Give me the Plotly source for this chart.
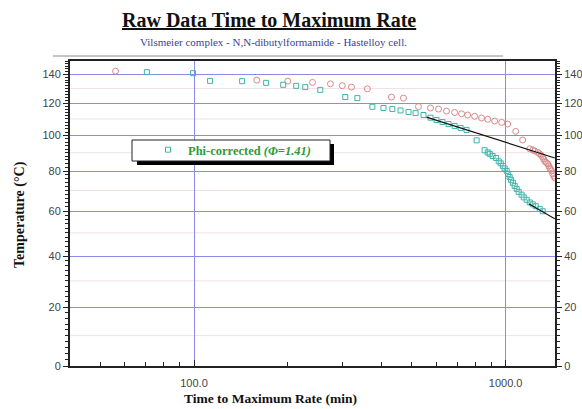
import numpy as np
import plotly.graph_objects as go

# Raw adiabatic data: time to maximum rate (min) vs temperature (°C)
raw_time = [56, 159, 200, 240, 274, 299, 320, 360, 430, 470, 525, 574, 609, 646,
            686, 722, 755, 795, 837, 876, 922, 971, 1015, 1077, 1134,
            1195, 1222, 1240, 1268, 1286, 1300, 1315, 1325, 1335, 1350, 1365,
            1375, 1385, 1395, 1405, 1416, 1428, 1438]
raw_temp = [142.4, 135.9, 135.2, 134.3, 133.3, 132.0, 131.0, 129.8, 124.2, 123.5,
            117.9, 117.0, 116.3, 115.0, 114.1, 113.3, 112.5, 111.7, 110.6, 109.8,
            108.7, 107.9, 106.9, 102.4, 97.3,
            92.2, 91.6, 91.0, 90.2, 89.4, 88.6, 87.6, 86.5, 85.3, 84.6, 83.9,
            82.8, 81.7, 80.9, 80.1, 78.5, 77.4, 76.4]

# Phi-corrected data
phi_time = [70.6, 99.3, 112.6, 142.7, 170.4, 193.3, 212.8, 227.5, 254.2, 305.8,
            334.3, 373.6, 405.4, 433, 460, 488, 514, 545, 574, 600, 627, 656,
            686, 717, 749, 807, 856, 876, 889, 908, 932, 950, 964, 980, 993,
            1008, 1019, 1030, 1041, 1055, 1069, 1085, 1101, 1125, 1143, 1168,
            1195, 1222, 1249, 1286, 1315]
phi_temp = [141.7, 140.9, 135.4, 135.2, 134.0, 132.6, 131.9, 131.0, 129.1, 124.2,
            123.5, 117.8, 117.0, 116.3, 115.4, 114.4, 113.7, 112.5, 110.8, 109.4,
            108.1, 106.9, 105.7, 104.5, 103.3, 97.1, 91.4, 90.2, 89.4, 88.2, 87.1,
            85.3, 84.2, 82.8, 81.4, 80.1, 78.5, 76.9, 75.4, 73.9, 72.3, 70.8,
            69.3, 67.9, 66.6, 65.4, 64.1, 63.2, 62.3, 61.0, 59.9]

# Arrhenius fit lines
fit_hi_time = [557, 1438]
fit_hi_temp = [111.2, 87.1]
fit_lo_time = [1186, 1438]
fit_lo_temp = [63.5, 56.4]

temp_ticks = [0, 20, 40, 60, 80, 100, 120, 140]
temp_minor_grid = [10, 30, 50, 70, 90, 110, 130]
temp_minor_ticks = list(range(0, 151, 2))
time_ticks = [100, 1000]
time_tick_labels = ["100.0", "1000.0"]
time_minor_ticks = [50, 60, 70, 80, 90, 200, 300, 400, 500, 600, 700, 800, 900]
time_range = [40, 1440]
temp_range = [0, 150]


def inv_t(temp_c):
    """Reciprocal absolute temperature scale (Arrhenius axis)."""
    return -1000.0 / (np.asarray(temp_c, dtype=float) + 273.15)


SERIF = "Liberation Serif, Times New Roman, serif"
SANS = "Liberation Sans, Arial, sans-serif"
GRID_BLUE = "#8a8ae8"
TICK_COLOR = "#444444"

# Plot-area geometry in pixels
L, R, T, B = 70, 27, 61, 43
W, H = 582, 409
PW, PH = W - L - R, H - T - B


def px_x(px):
    return (px - L) / PW


def px_y(py):
    return (H - B - py) / PH


fig = go.Figure()

fig.add_trace(go.Scatter(
    x=raw_time, y=inv_t(raw_temp), mode="markers", showlegend=False,
    marker=dict(symbol="circle-open", size=6, color="#d98a8a", line=dict(width=1)),
))
fig.add_trace(go.Scatter(
    x=phi_time, y=inv_t(phi_temp), mode="markers",
    name="<b>Phi-corrected <i>(Φ=1.41)</i></b>",
    marker=dict(symbol="square-open", size=5, color="#3fb3a8", line=dict(width=1)),
))
fig.add_trace(go.Scatter(
    x=fit_hi_time, y=inv_t(fit_hi_temp), mode="lines", showlegend=False,
    line=dict(color="#111111", width=1.2),
))
fig.add_trace(go.Scatter(
    x=fit_lo_time, y=inv_t(fit_lo_temp), mode="lines", showlegend=False,
    line=dict(color="#111111", width=1.2),
))
# Invisible trace so the right-hand axis is drawn
fig.add_trace(go.Scatter(x=[time_range[0]], y=[inv_t(0)], yaxis="y2",
                         mode="markers", marker=dict(opacity=0),
                         showlegend=False, hoverinfo="skip"))

y_range = list(inv_t(temp_range))
tickvals_y = list(inv_t(temp_ticks))
ticktext_y = [str(t) for t in temp_ticks]

common_y = dict(
    range=y_range, tickvals=tickvals_y, ticktext=ticktext_y,
    showline=True, linecolor="#222222", linewidth=2,
    ticks="outside", ticklen=5, tickwidth=1, tickcolor="#222222",
    tickfont=dict(family=SANS, size=11, color=TICK_COLOR),
    minor=dict(tickvals=list(inv_t(temp_minor_ticks)), ticks="outside",
               ticklen=3, tickcolor="#222222", showgrid=False),
    zeroline=False, automargin=False,
)

fig.update_layout(
    width=W, height=H,
    margin=dict(l=L, r=R, t=T, b=B),
    paper_bgcolor="white", plot_bgcolor="white",
    xaxis=dict(
        type="log", range=[np.log10(time_range[0]), np.log10(time_range[1])],
        tickvals=time_ticks, ticktext=time_tick_labels,
        showgrid=True, gridcolor=GRID_BLUE, gridwidth=1,
        showline=True, linecolor="#222222", linewidth=2, mirror=True,
        ticks="inside", ticklen=6, tickcolor="#222222",
        ticklabelstandoff=6,
        tickfont=dict(family=SANS, size=11, color=TICK_COLOR),
        minor=dict(tickvals=time_minor_ticks, ticks="inside", ticklen=4,
                   tickcolor="#222222", showgrid=False),
        zeroline=False, automargin=False,
    ),
    yaxis=dict(showgrid=True, gridcolor=GRID_BLUE, gridwidth=1, side="left",
               **common_y),
    yaxis2=dict(overlaying="y", side="right", showgrid=False, **common_y),
    showlegend=True,
    legend=dict(
        x=px_x(148), y=px_y(150), xanchor="left", yanchor="middle",
        bgcolor="rgba(0,0,0,0)", borderwidth=0,
        font=dict(family=SERIF, size=12.5, color="#2e9a3a"),
    ),
)

# Faint intermediate gridlines
for t in temp_minor_grid:
    yv = float(inv_t(t))
    fig.add_shape(type="line", xref="paper", x0=0, x1=1, yref="y", y0=yv, y1=yv,
                  line=dict(color="#f1e2e2", width=1), layer="below")

# Legend frame with drop shadow
fig.add_shape(type="rect", xref="paper", yref="paper",
              x0=px_x(137), x1=px_x(334), y0=px_y(165), y1=px_y(144),
              fillcolor="black", line=dict(width=0), layer="above")
fig.add_shape(type="rect", xref="paper", yref="paper",
              x0=px_x(132), x1=px_x(330), y0=px_y(161), y1=px_y(140),
              fillcolor="white", line=dict(color="#222222", width=1), layer="above")

# Rule under the subtitle
fig.add_shape(type="line", xref="paper", yref="paper",
              x0=px_x(53), x1=px_x(503), y0=px_y(56), y1=px_y(56),
              line=dict(color="#8a8a8a", width=1))

label = dict(xref="paper", yref="paper", showarrow=False,
             xanchor="center", yanchor="middle")
fig.add_annotation(text="<b><u>Raw Data Time to Maximum Rate</u></b>",
                   x=px_x(269), y=px_y(20),
                   font=dict(family=SERIF, size=20, color="#111111"), **label)
fig.add_annotation(text="Vilsmeier complex - N,N-dibutylformamide - Hastelloy cell.",
                   x=px_x(273), y=px_y(42),
                   font=dict(family=SERIF, size=11, color="#3c3ca8"), **label)
fig.add_annotation(text="<b>Time to Maximum Rate (min)</b>",
                   x=px_x(270), y=px_y(398),
                   font=dict(family=SERIF, size=13.5, color="#111111"), **label)
fig.add_annotation(text="<b>Temperature (°C)</b>", textangle=-90,
                   x=px_x(20), y=px_y(215),
                   font=dict(family=SERIF, size=14, color="#111111"), **label)

fig.write_html("out.html")
